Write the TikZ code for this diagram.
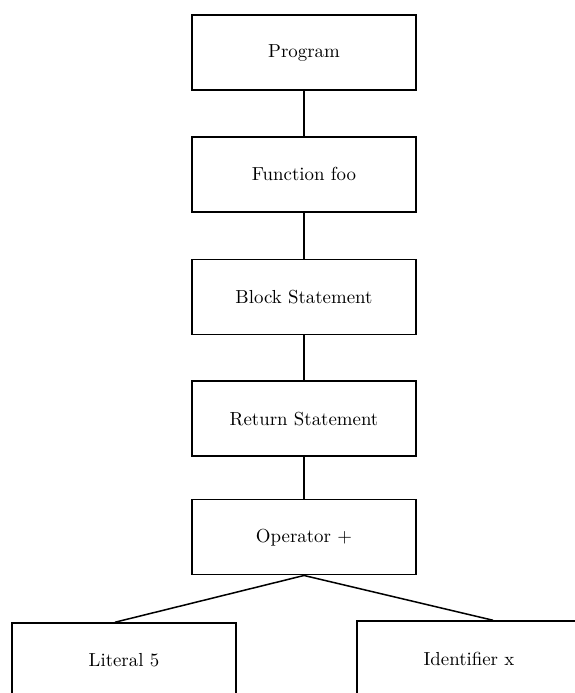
\documentclass[tikz,border=0pt]{standalone}
\usepackage{tikz}
\usetikzlibrary{positioning}

\begin{document}
\begin{tikzpicture}[
    x=0.53pt, y=-0.53pt,
    node distance=24pt,
    box/.style={draw, minimum width=118.7pt, minimum height=39.75pt,
                inner sep=0pt, thick},
    edge/.style={thick}
  ]
    \useasboundingbox (0,0) rectangle (575,693);

    % Chain of statements
    \node[box] (prog) at (304,52.5) {Program};
    \node[box, below=of prog] (func) {Function foo};
    \node[box, below=24.4pt of func] (block) {Block Statement};
    \node[box, below=of block] (ret) {Return Statement};
    \node[box, below=22.3pt of ret] (op) {Operator +};

    \draw[edge] (prog) -- (func);
    \draw[edge] (func) -- (block);
    \draw[edge] (block) -- (ret);
    \draw[edge] (ret) -- (op);

    % Operands below
    \node[box] (lit) at (124,660.5) {Literal 5};
    \node[box] (ident) at (469,658.5) {Identifier x};

    \draw[edge] (op.south) -- ([xshift=-4.8pt]lit.north);
    \draw[edge] (op.south) -- ([xshift=12.7pt]ident.north);
  \end{tikzpicture}
\end{document}
